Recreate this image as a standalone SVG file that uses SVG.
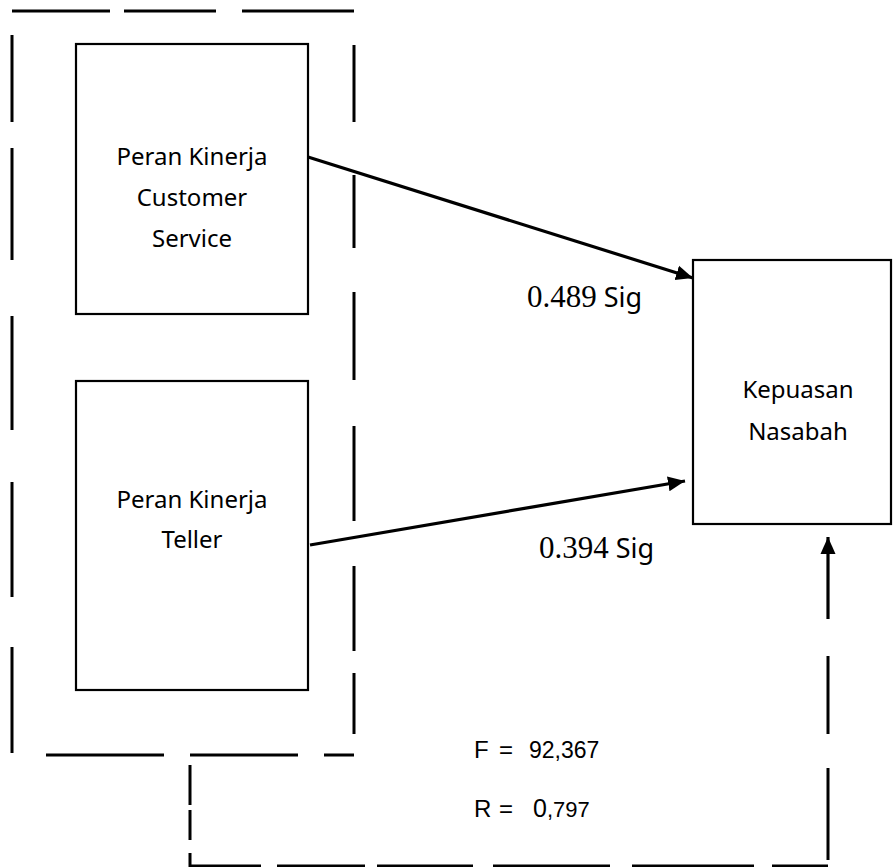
<svg xmlns="http://www.w3.org/2000/svg" width="893" height="867" viewBox="0 0 893 867">
<style>
.box{fill:#fff;stroke:#000;stroke-width:2.2}
.dash{stroke:#000;stroke-width:3;fill:none;stroke-linecap:butt}
.arr{stroke:#000;stroke-width:3.2;fill:none}
.lbl{font-family:"Noto Sans","Open Sans",sans-serif;font-size:24px;fill:#000;text-anchor:middle}
.ser{font-family:"Liberation Serif","Times New Roman",serif;font-size:31px;fill:#000}
.san{font-family:"Noto Sans","Open Sans",sans-serif;font-size:27px;fill:#000}
.ari{font-family:"Liberation Sans",Arial,sans-serif;fill:#000}
</style>
<defs>
<marker id="ah" markerUnits="userSpaceOnUse" markerWidth="19" markerHeight="17" refX="17" refY="8" orient="auto">
<path d="M0,0.5 L17,8 L0,15.5 z" fill="#000"/>
</marker>
</defs>
<rect width="893" height="867" fill="#fff"/>
<g id="group-frame">
<path class="dash" d="M12,11H110 M124,11H216 M242,11H354"/>
<path class="dash" d="M12,35V122 M12,148V260 M12,316V430 M12,482V597 M12,647V753"/>
<path class="dash" d="M354,45V122 M354,175V248 M354,292V380 M354,426V521 M354,566V651 M354,673V734"/>
<path class="dash" d="M46,755H164 M190,755H298 M324,755H354"/>
</g>
<g id="node-cs">
<rect class="box" x="76" y="44" width="232" height="270"/>
<text class="lbl" x="192" y="165">Peran Kinerja</text>
<text class="lbl" x="192" y="206">Customer</text>
<text class="lbl" x="192" y="247">Service</text>
</g>
<g id="node-teller">
<rect class="box" x="76" y="381" width="232" height="309"/>
<text class="lbl" x="192" y="508">Peran Kinerja</text>
<text class="lbl" x="192" y="548">Teller</text>
</g>
<g id="node-kepuasan">
<rect class="box" x="693" y="260" width="198" height="264"/>
<text class="lbl" x="798" y="398">Kepuasan</text>
<text class="lbl" x="798" y="440">Nasabah</text>
</g>
<g id="connectors">
<line class="arr" x1="308" y1="157" x2="693" y2="278" marker-end="url(#ah)"/>
<line class="arr" x1="310" y1="545" x2="685" y2="481" marker-end="url(#ah)"/>
<path class="dash" d="M190,765V805 M190,810V840 M190,853V866H261 M277,866H365 M377,866H473 M493,866H610 M632,866H754 M772,866H828"/>
<path class="dash" d="M828,860V768 M828,734V656"/>
<line class="arr" x1="828" y1="619" x2="828" y2="537" marker-end="url(#ah)"/>
</g>
<g id="labels">
<text x="527" y="307"><tspan class="ser">0.489</tspan><tspan class="san" dx="7">Sig</tspan></text>
<text x="539" y="558"><tspan class="ser">0.394</tspan><tspan class="san" dx="7">Sig</tspan></text>
<text class="ari" x="474" y="758" font-size="24">F</text>
<text class="ari" x="499" y="758" font-size="24">=</text>
<text class="ari" x="529" y="758" font-size="23">92,367</text>
<text class="ari" x="474" y="817" font-size="24">R</text>
<text class="ari" x="499" y="817" font-size="24">=</text>
<text class="ari" x="533" y="817" font-size="25">0</text>
<text class="ari" x="547" y="817" font-size="22">,797</text>
</g>
</svg>
